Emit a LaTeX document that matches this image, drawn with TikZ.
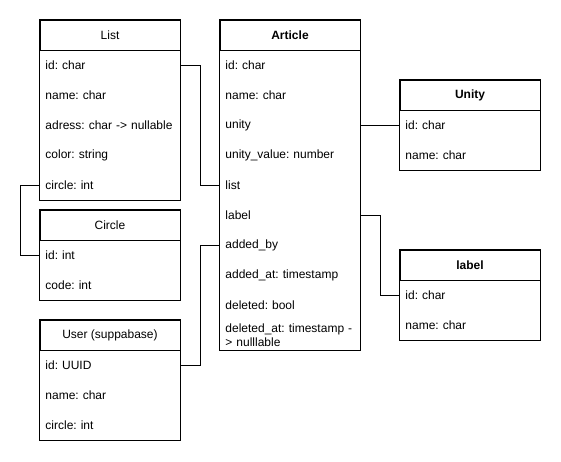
\documentclass[tikz,border=0pt]{standalone}
\usepackage{fontspec}
\setmainfont{Liberation Sans}
\usepackage{tikz}
\usetikzlibrary{positioning}

\begin{document}
\frenchspacing
\begin{tikzpicture}[
    x=1pt, y=-1pt,
    line width=0.9pt,
    every node/.style={font=\fontsize{12}{14}\selectfont},
    hdr/.style={draw, minimum width=140pt, minimum height=30pt, inner sep=0pt},
    row/.style={anchor=north west, minimum width=140pt, minimum height=30pt,
                text width=130pt, align=left, inner xsep=5pt, inner ysep=0pt}
]
\useasboundingbox (0,0) rectangle (561,461);

% ========== 左列：List / Circle / User ==========
\node[hdr] (list) at (110,35) {List};
\foreach \t [count=\i] in {id: char, name: char, adress: char -> nullable, color: string, circle: int}
    \node[row] (list-\i) at (40,20+30*\i) {\t};
\draw (list.north west) rectangle (list-5.south east);

\node[hdr] (circle) at (110,225) {Circle};
\foreach \t [count=\i] in {id: int, code: int}
    \node[row] (circle-\i) at (40,210+30*\i) {\t};
\draw (circle.north west) rectangle (circle-2.south east);

\node[hdr] (user) at (110,335) {User (suppabase)};
\foreach \t [count=\i] in {id: UUID, name: char, circle: int}
    \node[row] (user-\i) at (40,320+30*\i) {\t};
\draw (user.north west) rectangle (user-3.south east);

% ========== 中列：Article ==========
\node[hdr, font=\fontsize{12}{14}\selectfont\bfseries] (article) at (290,35) {Article};
\foreach \t [count=\i] in {id: char, name: char, unity, unity\_value: number, list, label,
                          added\_by, added\_at: timestamp, deleted: bool,
                          {deleted\_at: timestamp -\\> nulllable}}
    \node[row] (article-\i) at (220,20+30*\i) {\t};
\draw (article.north west) rectangle (article-10.south east);

% ========== 右列：Unity / label ==========
\node[hdr, font=\fontsize{12}{14}\selectfont\bfseries] (unity) at (470,95) {Unity};
\foreach \t [count=\i] in {id: char, name: char}
    \node[row] (unity-\i) at (400,80+30*\i) {\t};
\draw (unity.north west) rectangle (unity-2.south east);

\node[hdr, font=\fontsize{12}{14}\selectfont\bfseries] (lbl) at (470,265) {label};
\foreach \t [count=\i] in {id: char, name: char}
    \node[row] (lbl-\i) at (400,250+30*\i) {\t};
\draw (lbl.north west) rectangle (lbl-2.south east);

% ========== 连线 ==========
\draw (list-1.east) -- ++(20,0) |- (article-5.west);
\draw (list-5.west) -- ++(-20,0) |- (circle-1.west);
\draw (user-1.east) -- ++(20,0) |- (article-7.west);
\draw (article-3.east) -- (unity-1.west);
\draw (article-6.east) -- ++(20,0) |- (lbl-1.west);

\end{tikzpicture}
\end{document}
